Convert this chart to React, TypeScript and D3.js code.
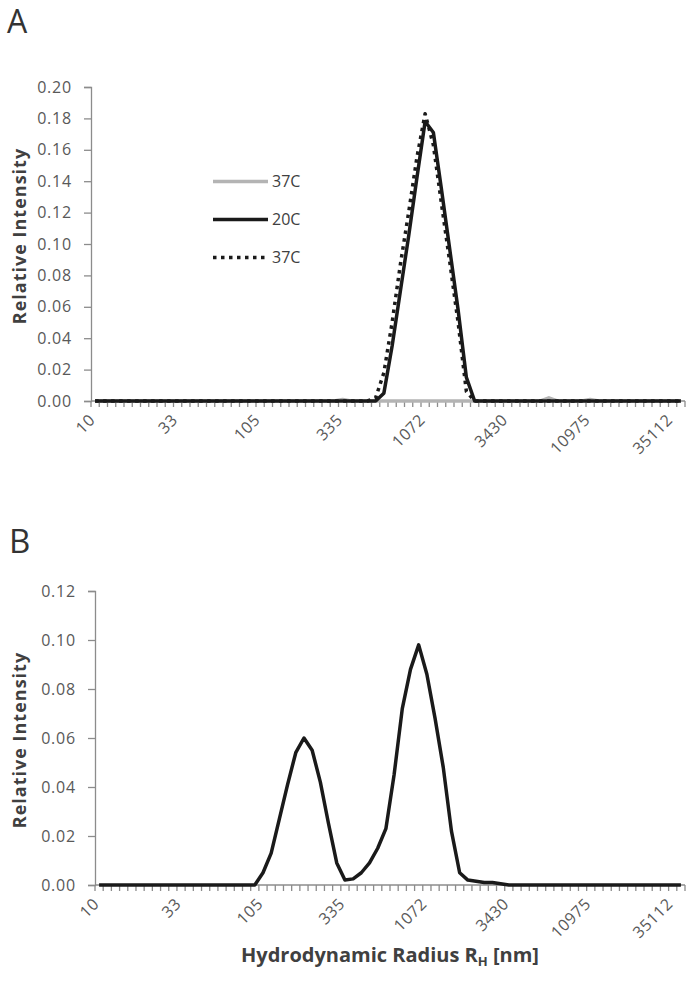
import React, { useEffect, useRef } from "react";
import * as d3 from "d3";

// 72 log-spaced size bins, a label every 10 bins
const binCount = 72;
const tickLabels = ["10", "33", "105", "335", "1072", "3430", "10975", "35112"];

// Panel A
const seriesNames = ["37C", "20C", "37C"];
const gray37 = [
  0, 0, 0, 0, 0, 0, 0, 0, 0, 0, 0, 0, 0, 0, 0, 0, 0, 0, 0, 0,
  0, 0, 0, 0, 0, 0, 0, 0, 0, 0, 0.001, 0, 0, 0, 0, 0, 0, 0, 0, 0,
  0, 0, 0, 0, 0, 0, 0, 0, 0, 0, 0, 0, 0, 0, 0, 0.002, 0, 0, 0, 0,
  0.001, 0, 0, 0, 0, 0, 0, 0, 0, 0, 0, 0,
];
const solid20 = [
  0, 0, 0, 0, 0, 0, 0, 0, 0, 0, 0, 0, 0, 0, 0, 0, 0, 0, 0, 0,
  0, 0, 0, 0, 0, 0, 0, 0, 0, 0, 0, 0, 0, 0, 0, 0.005, 0.035, 0.07, 0.105, 0.142,
  0.178, 0.171, 0.134, 0.096, 0.058, 0.015, 0, 0, 0, 0, 0, 0, 0, 0, 0, 0, 0, 0, 0, 0,
  0, 0, 0, 0, 0, 0, 0, 0, 0, 0, 0, 0,
];
const dotted37 = [
  0, 0, 0, 0, 0, 0, 0, 0, 0, 0, 0, 0, 0, 0, 0, 0, 0, 0, 0, 0,
  0, 0, 0, 0, 0, 0, 0, 0, 0, 0, 0, 0, 0, 0, 0.002, 0.018, 0.05, 0.087, 0.12, 0.155,
  0.183, 0.163, 0.125, 0.088, 0.05, 0.006, 0, 0, 0, 0, 0, 0, 0, 0, 0, 0, 0, 0, 0, 0,
  0, 0, 0, 0, 0, 0, 0, 0, 0, 0, 0, 0,
];

// Panel B
const panelB = [
  0, 0, 0, 0, 0, 0, 0, 0, 0, 0, 0, 0, 0, 0, 0, 0, 0, 0, 0, 0,
  0.005, 0.013, 0.027, 0.041, 0.054, 0.06, 0.055, 0.042, 0.025, 0.009,
  0.002, 0.0025, 0.005, 0.009, 0.015, 0.023, 0.045, 0.072, 0.088, 0.098,
  0.086, 0.068, 0.048, 0.022, 0.005, 0.002, 0.0015, 0.001, 0.001, 0.0005,
  0, 0, 0, 0, 0, 0, 0, 0, 0, 0, 0, 0, 0, 0, 0, 0, 0, 0, 0, 0, 0, 0,
];

const yTicksA = [0, 0.02, 0.04, 0.06, 0.08, 0.1, 0.12, 0.14, 0.16, 0.18, 0.2];
const yTicksB = [0, 0.02, 0.04, 0.06, 0.08, 0.1, 0.12];

const font = "'Open Sans', sans-serif";
const axisColor = "#8c8c8c";

function drawPanel(svg, opts) {
  const { left, right, top, bottom, yMax, yTicks, series, titleY } = opts;
  const g = svg.append("g");

  const x = d3.scaleBand().domain(d3.range(binCount)).range([left, right]);
  const y = d3.scaleLinear().domain([0, yMax]).range([bottom, top]);

  // y axis
  const yAxis = d3.axisLeft(y).tickValues(yTicks).tickSize(7).tickPadding(12).tickFormat(d3.format(".2f"));
  const yG = g.append("g").attr("transform", `translate(${left},0)`).call(yAxis);
  yG.select(".domain").attr("stroke", axisColor).attr("stroke-width", 1.3);
  yG.selectAll(".tick line").attr("stroke", axisColor).attr("stroke-width", 1.3);
  yG.selectAll(".tick text")
    .attr("font-family", font).attr("font-size", 16).attr("letter-spacing", 0.8).attr("fill", "#595959");

  // x axis: ticks between the bins
  const edges = d3.range(binCount + 1).map(i => left + i * x.step());
  g.append("line")
    .attr("x1", left).attr("x2", right).attr("y1", bottom).attr("y2", bottom)
    .attr("stroke", axisColor).attr("stroke-width", 1.3);
  g.selectAll(".xtick").data(edges).join("line")
    .attr("class", "xtick")
    .attr("x1", d => d).attr("x2", d => d)
    .attr("y1", bottom).attr("y2", bottom + 6)
    .attr("stroke", axisColor).attr("stroke-width", 1.3);

  g.selectAll(".xlab").data(tickLabels).join("text")
    .attr("class", "xlab")
    .attr("transform", (d, i) => `translate(${x(i * 10) + x.bandwidth() / 2 + 1},${bottom + 20}) rotate(-45)`)
    .attr("text-anchor", "end")
    .attr("font-family", font).attr("font-size", 16).attr("letter-spacing", 0.5).attr("fill", "#595959")
    .text(d => d);

  g.append("text")
    .attr("transform", `translate(26,${titleY}) rotate(-90)`)
    .attr("text-anchor", "middle")
    .attr("font-family", font).attr("font-size", 18).attr("letter-spacing", 1)
    .attr("font-weight", "bold").attr("fill", "#404040")
    .text("Relative Intensity");

  const line = d3.line().x((d, i) => x(i) + x.bandwidth() / 2).y(d => y(d));
  series.forEach(s => {
    g.append("path")
      .attr("d", line(s.values))
      .attr("fill", "none")
      .attr("stroke", s.color)
      .attr("stroke-width", s.width)
      .attr("stroke-dasharray", s.dash || null)
      .attr("stroke-linejoin", "round");
  });
  return g;
}

export default function App() {
  const ref = useRef(null);

  useEffect(() => {
    const svg = d3.select(ref.current);
    svg.selectAll("*").remove();

    const styles = [
      { color: "#b4b4b4", width: 3.5 },
      { color: "#1a1a1a", width: 3.5 },
      { color: "#1a1a1a", width: 3.5, dash: "3.5,4.5" },
    ];

    drawPanel(svg, {
      left: 91, right: 685, top: 87, bottom: 401, yMax: 0.2, yTicks: yTicksA, titleY: 236,
      series: [gray37, solid20, dotted37].map((v, i) => ({ values: v, ...styles[i] })),
    });
    drawPanel(svg, {
      left: 95, right: 685, top: 591, bottom: 885, yMax: 0.12, yTicks: yTicksB, titleY: 740,
      series: [{ values: panelB, color: "#1a1a1a", width: 3.5 }],
    });

    // legend of panel A
    const legY = d3.scalePoint().domain(d3.range(seriesNames.length)).range([181.5, 257.5]);
    const leg = svg.append("g");
    seriesNames.forEach((name, i) => {
      leg.append("line")
        .attr("x1", 213).attr("x2", 268).attr("y1", legY(i)).attr("y2", legY(i))
        .attr("stroke", styles[i].color).attr("stroke-width", styles[i].width)
        .attr("stroke-dasharray", styles[i].dash || null);
      leg.append("text")
        .attr("x", 272).attr("y", legY(i)).attr("dy", "0.36em")
        .attr("font-family", font).attr("font-size", 16).attr("fill", "#404040")
        .text(name);
    });

    svg.append("text").attr("x", 7).attr("y", 33)
      .attr("font-family", font).attr("font-size", 32).attr("fill", "#333").text("A");
    svg.append("text").attr("x", 9).attr("y", 553)
      .attr("font-family", font).attr("font-size", 33).attr("fill", "#333").text("B");

    const title = svg.append("text")
      .attr("x", 390).attr("y", 962).attr("text-anchor", "middle")
      .attr("font-family", font).attr("font-size", 20).attr("font-weight", "bold").attr("fill", "#404040");
    title.append("tspan").text("Hydrodynamic Radius R");
    title.append("tspan").attr("font-size", 13).attr("dy", 4).text("H");
    title.append("tspan").attr("dy", -4).text(" [nm]");
  }, []);

  return (
    <svg ref={ref} width={692} height={990} style={{ position: "absolute", left: 0, top: 0, background: "#fff" }} />
  );
}
